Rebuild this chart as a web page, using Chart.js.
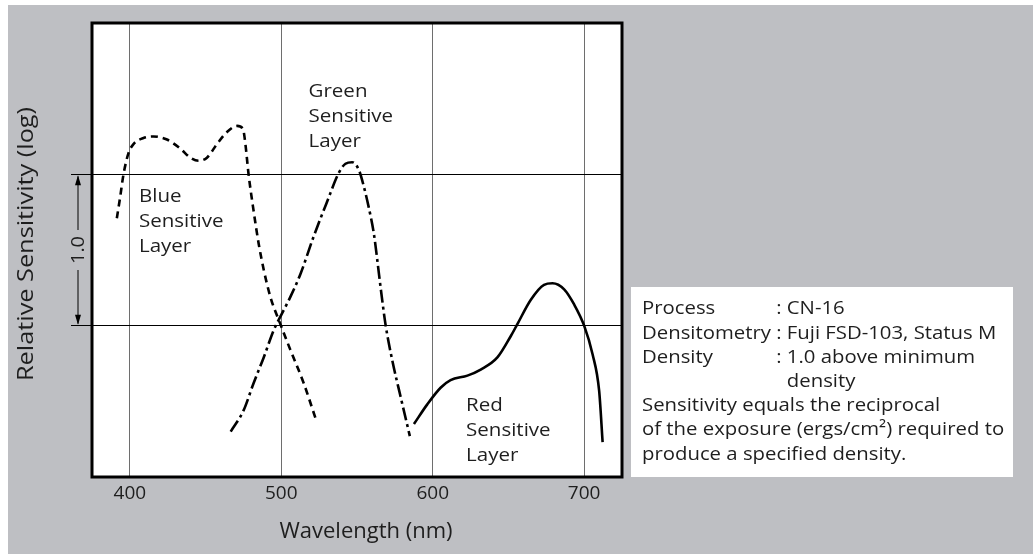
<!DOCTYPE html>
<html>
<head>
<meta charset="utf-8">
<script src="https://cdn.jsdelivr.net/npm/chart.js@4.4.0/dist/chart.umd.min.js"></script>
<style>
html, body { margin: 0; padding: 0; background: #fff; }
#wrap { position: relative; width: 1033px; height: 554px; }
</style>
</head>
<body>
<div id="wrap"><canvas id="chart" width="1033" height="554"></canvas></div>
<script>
// Spectral sensitivity curves (wavelength nm / relative log sensitivity)
const blueX = [391.4, 393.6, 395.8, 399.1, 402.4, 409.0, 415.6, 424.5, 433.3, 439.9, 445.4, 450.9, 457.5, 464.2, 470.8, 474.7, 476.3, 478.4, 481.7, 485.1, 488.4, 492.8, 499.4, 506.0, 514.8, 523.2];
const blueY = [0.71, 0.85, 1.00, 1.14, 1.20, 1.24, 1.25, 1.23, 1.17, 1.11, 1.09, 1.11, 1.20, 1.28, 1.32, 1.30, 1.20, 1.00, 0.76, 0.54, 0.37, 0.19, 0.01, -0.16, -0.38, -0.63];

const greenX = [466.6, 475.1, 481.7, 488.4, 495.0, 499.4, 506.0, 512.6, 521.4, 530.3, 538.0, 542.4, 546.8, 551.2, 554.5, 557.8, 561.1, 565.5, 568.8, 573.3, 578.8, 584.9];
const greenY = [-0.70, -0.56, -0.38, -0.21, -0.03, 0.06, 0.19, 0.34, 0.59, 0.82, 1.01, 1.07, 1.08, 1.03, 0.92, 0.78, 0.61, 0.26, 0.01, -0.23, -0.47, -0.73];

const redX = [587.6, 596.4, 605.2, 611.8, 622.9, 631.7, 642.7, 651.5, 655.9, 664.7, 673.5, 679.1, 686.8, 693.4, 700.0, 705.6, 709.9, 712.2];
const redY = [-0.65, -0.52, -0.41, -0.36, -0.33, -0.29, -0.21, -0.07, 0.01, 0.17, 0.27, 0.28, 0.24, 0.14, 0.00, -0.19, -0.43, -0.77];

const xTicks = [400, 500, 600, 700];
const yGrid = [0, 1];

const curveLabels = [
    { lines: ['Blue', 'Sensitive', 'Layer'], x: 406, y: 0.85 },
    { lines: ['Green', 'Sensitive', 'Layer'], x: 518, y: 1.55 },
    { lines: ['Red', 'Sensitive', 'Layer'], x: 622, y: -0.525 }
];

const noteHeads = ['Process', 'Densitometry', 'Density'];
const noteValues = ['CN-16', 'Fuji FSD-103, Status M', '1.0 above minimum', 'density'];
const noteBody = [
    'Sensitivity equals the reciprocal',
    'of the exposure (ergs/cm\u00B2) required to',
    'produce a specified density.'
];

const FONT = '"Open Sans", "DejaVu Sans", sans-serif';
const TEXT = '#1e1e1e';

const toPoints = (xs, ys) => xs.map((x, i) => ({ x: x, y: ys[i] }));

// text drawn a little wider than the font, like the original typesetting
function wideText(ctx, text, x, y, sx, align) {
    ctx.save();
    ctx.translate(x, y);
    ctx.scale(sx, 1);
    ctx.textAlign = align || 'left';
    ctx.fillText(text, 0, 0);
    ctx.restore();
}

const framePlugin = {
    id: 'frame',
    beforeDraw(chart) {
        const { ctx, chartArea: a } = chart;
        ctx.save();
        ctx.fillStyle = '#bebfc3';
        ctx.fillRect(8, 5, chart.width - 8, chart.height - 5);
        ctx.fillStyle = '#fff';
        ctx.fillRect(a.left, a.top, a.right - a.left, a.bottom - a.top);
        ctx.restore();
    },
    afterDraw(chart) {
        const { ctx, chartArea: a, scales } = chart;
        ctx.save();
        ctx.strokeStyle = '#000';
        ctx.lineWidth = 3;
        ctx.strokeRect(a.left, a.top, a.right - a.left, a.bottom - a.top);

        ctx.fillStyle = TEXT;
        ctx.textBaseline = 'middle';

        // axis titles
        ctx.font = '22px ' + FONT;
        wideText(ctx, 'Wavelength (nm)', 366, 532, 1, 'center');
        ctx.save();
        ctx.translate(27, 244);
        ctx.rotate(-Math.PI / 2);
        wideText(ctx, 'Relative Sensitivity (log)', 0, 0, 1.15, 'center');
        ctx.restore();

        // curve labels
        ctx.font = '19px ' + FONT;
        curveLabels.forEach(l => {
            const px = scales.x.getPixelForValue(l.x);
            const py = scales.y.getPixelForValue(l.y);
            l.lines.forEach((t, i) => wideText(ctx, t, px, py + i * 25, 1.08));
        });

        // "1.0" span marker
        const mx = 78;
        const y1 = scales.y.getPixelForValue(1);
        const y0 = scales.y.getPixelForValue(0);
        const mid = (y0 + y1) / 2;
        ctx.strokeStyle = '#000';
        ctx.lineWidth = 1;
        ctx.beginPath();
        ctx.moveTo(mx, y1 + 2); ctx.lineTo(mx, mid - 20);
        ctx.moveTo(mx, mid + 20); ctx.lineTo(mx, y0 - 2);
        ctx.stroke();
        ctx.fillStyle = '#000';
        ctx.beginPath();
        ctx.moveTo(mx, y1 + 1); ctx.lineTo(mx - 3, y1 + 11); ctx.lineTo(mx + 3, y1 + 11); ctx.closePath();
        ctx.moveTo(mx, y0 - 1); ctx.lineTo(mx - 3, y0 - 11); ctx.lineTo(mx + 3, y0 - 11); ctx.closePath();
        ctx.fill();
        ctx.save();
        ctx.translate(mx, mid);
        ctx.rotate(-Math.PI / 2);
        ctx.fillStyle = TEXT;
        wideText(ctx, '1.0', 0, 1, 1.05, 'center');
        ctx.restore();

        // note box
        const sx = 1.07, left = 642, top = 309, step = 24.2;
        ctx.fillStyle = '#fff';
        ctx.fillRect(631, 287, 382, 190);
        ctx.fillStyle = TEXT;
        const colonX = left + ctx.measureText(noteHeads[1] + ' ').width * sx;
        const valueX = colonX + ctx.measureText(': ').width * sx;
        noteHeads.forEach((h, i) => {
            const y = top + i * step;
            wideText(ctx, h, left, y, sx);
            wideText(ctx, ': ' + noteValues[i], colonX, y, sx);
        });
        wideText(ctx, noteValues[3], valueX, top + 3 * step, sx);
        noteBody.forEach((t, i) => wideText(ctx, t, left, top + (4 + i) * step, sx));
        ctx.restore();
    }
};

new Chart(document.getElementById('chart'), {
    type: 'scatter',
    data: {
        datasets: [
            { label: 'Blue Sensitive Layer', data: toPoints(blueX, blueY), borderColor: '#000', borderDash: [7, 5] },
            { label: 'Green Sensitive Layer', data: toPoints(greenX, greenY), borderColor: '#000', borderDash: [13, 4, 3, 4] },
            { label: 'Red Sensitive Layer', data: toPoints(redX, redY), borderColor: '#000' }
        ]
    },
    options: {
        responsive: false,
        animation: false,
        devicePixelRatio: 1,
        layout: { padding: { left: 0, top: 23, right: 411, bottom: 0 } },
        datasets: {
            scatter: {
                showLine: true,
                borderWidth: 2.6,
                pointRadius: 0,
                cubicInterpolationMode: 'monotone',
                clip: false
            }
        },
        plugins: { legend: { display: false }, tooltip: { enabled: false }, colors: { enabled: false } },
        scales: {
            x: {
                type: 'linear',
                min: 375,
                max: 725,
                afterBuildTicks: s => { s.ticks = xTicks.map(v => ({ value: v })); },
                afterFit: s => { s.height = 77; },
                grid: { color: '#6e6e6e', lineWidth: 1, drawTicks: false },
                border: { display: false },
                ticks: { color: TEXT, font: { family: FONT, size: 19 }, padding: 5 }
            },
            y: {
                type: 'linear',
                min: -1,
                max: 2,
                afterBuildTicks: s => { s.ticks = yGrid.map(v => ({ value: v })); },
                afterFit: s => { s.width = 92; },
                grid: { color: '#000', lineWidth: 1, drawTicks: true, tickLength: 21, tickColor: '#000' },
                border: { display: false },
                ticks: { callback: () => '', padding: 0 }
            }
        }
    },
    plugins: [framePlugin]
});
</script>
</body>
</html>
